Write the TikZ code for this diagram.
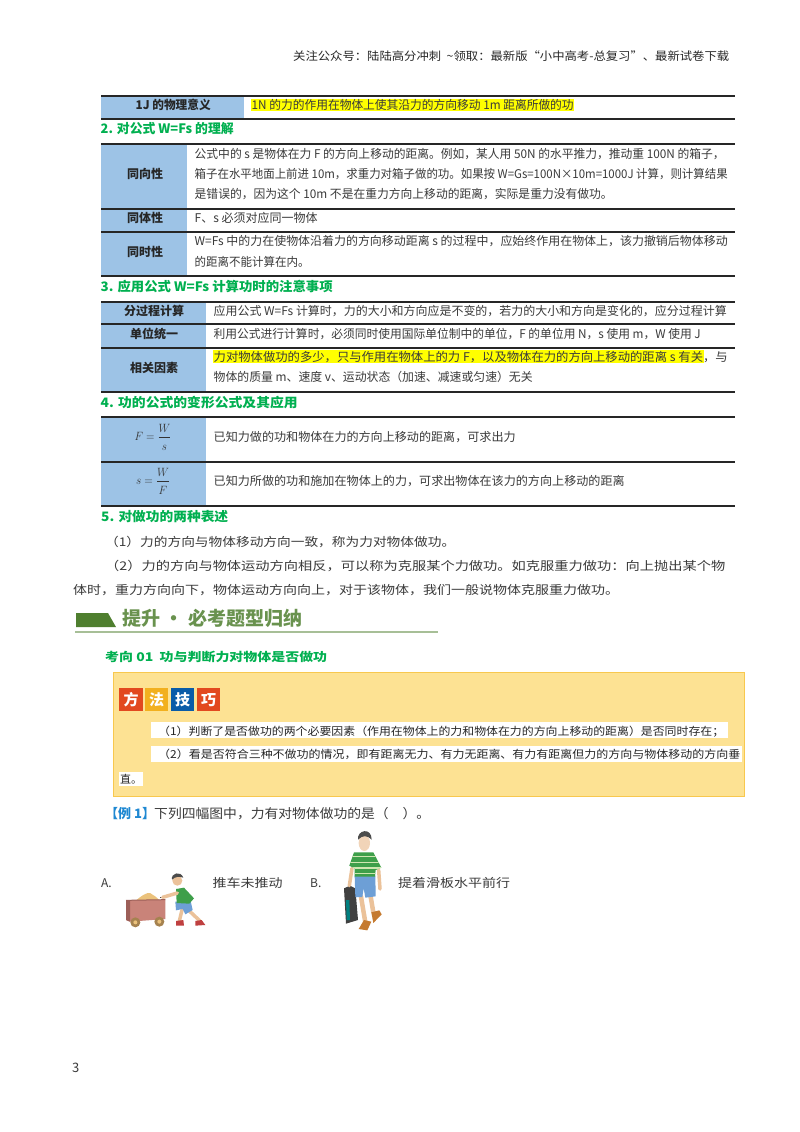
\documentclass[tikz,border=0pt]{standalone}
\usepackage{fontspec}
\usepackage{graphicx}
\usepackage{amsmath}
\setmainfont{Noto Sans CJK SC}
\definecolor{headgreen}{HTML}{00B050}
\definecolor{cellblue}{HTML}{9DC3E6}
\definecolor{markyellow}{HTML}{FFFF00}
\definecolor{boxyellow}{HTML}{FDE293}
\definecolor{boxedge}{HTML}{F8C84E}
\definecolor{bannergreen}{HTML}{4F7F2F}
\definecolor{inkgray}{HTML}{3A3A3A}
\definecolor{skin}{HTML}{EBC29A}
\definecolor{tilered}{HTML}{E2491F}
\definecolor{tileamber}{HTML}{F2B01E}
\definecolor{tileblue}{HTML}{0A5CA8}
\definecolor{exblue}{HTML}{1E88D2}
\definecolor{cartpink}{HTML}{C98379}
\definecolor{cartdark}{HTML}{9C5F58}
\definecolor{sand}{HTML}{EBC27C}
\definecolor{wheel}{HTML}{A5824F}
\definecolor{shirtgreen}{HTML}{3E9F4A}
\definecolor{shirtband}{HTML}{CFE6B0}
\definecolor{shortsblue}{HTML}{6D9FD6}
\definecolor{shoebrown}{HTML}{C57A2F}
\newcommand{\fitw}[2]{\resizebox{#1pt}{\height}{#2}}
\tikzset{
  bodytext/.style = {anchor=base west, yshift=-4.3pt, inner sep=0pt, text=inkgray, font=\fontsize{12}{12}\selectfont},
  headtext/.style = {bodytext, text=headgreen, font=\fontsize{13}{13}\selectfont\bfseries},
  celltext/.style = {bodytext, text=black!85, font=\fontsize{12}{12}\selectfont\bfseries},
  tiptext/.style = {bodytext, text=black!85, font=\fontsize{11}{12}\selectfont},
  mathtext/.style = {text=black!80, inner sep=0pt, font=\fontsize{12}{12}\selectfont},
  tileletter/.style = {text=white, inner sep=0pt, font=\fontsize{15}{15}\selectfont\bfseries},
  tabline/.style = {line width=1.3pt, black!85},
  limb/.style = {skin, line width=#1, line cap=round},
}
\begin{document}
\begin{tikzpicture}[x=1pt, y=-1pt]
\useasboundingbox (0, 0) rectangle (800, 1132);
\fill[white] (0, 0) rectangle (800, 1132);
\node[bodytext, text=black!85, font=\fontsize{11.5}{12}\selectfont] (top) at (293, 56) {\fitw{436}{关注公众号：陆陆高分冲刺\ \ \textasciitilde 领取：最新版“小中高考-总复习”、最新试卷下载}};
% blue cells of the tables
\fill[cellblue] (101, 96) rectangle (244, 119);
\fill[cellblue] (101, 144) rectangle (187, 276);
\fill[cellblue] (101, 302) rectangle (206, 392);
\fill[cellblue] (101, 417) rectangle (206, 506);
% yellow marks
\fill[markyellow] (251, 99) rectangle (574, 111);
\fill[markyellow] (213, 350) rectangle (704, 363);
\foreach \y in {96, 119, 144, 209, 232, 276, 302, 324, 348, 392, 417, 462, 506}{\draw[tabline] (101, \y) -- (735, \y);}
% first table
\node[celltext] (onej) at (135.5, 105) {\fitw{75}{1J 的物理意义}};
\node[bodytext] (onejt) at (251.5, 105) {\fitw{322}{1N 的力的作用在物体上使其沿力的方向移动 1m 距离所做的功}};
\node[headtext] (h2) at (100.5, 129) {\fitw{133}{2. 对公式 W=Fs 的理解}};
% second table
\foreach \t/\y in {同向性/174, 同体性/218, 同时性/252}{\node[celltext] (c\y) at (127, \y) {\t};}
\node[bodytext] (a1) at (194.5, 154) {\fitw{530}{公式中的 s 是物体在力 F 的方向上移动的距离。例如，某人用 50N 的水平推力，推动重 100N 的箱子，}};
\node[bodytext] (a2) at (194.5, 174) {\fitw{533}{箱子在水平地面上前进 10m，求重力对箱子做的功。如果按 W=Gs=100N×10m=1000J 计算，则计算结果}};
\node[bodytext] (a3) at (194.5, 194) {\fitw{418}{是错误的，因为这个 10m 不是在重力方向上移动的距离，实际是重力没有做功。}};
\node[bodytext] (b1) at (194.5, 218) {\fitw{123}{F、s 必须对应同一物体}};
\node[bodytext] (d1) at (194.5, 241) {\fitw{533}{W=Fs 中的力在使物体沿着力的方向移动距离 s 的过程中，应始终作用在物体上，该力撤销后物体移动}};
\node[bodytext] (d2) at (194.5, 262) {\fitw{115}{的距离不能计算在内。}};
\node[headtext] (h3) at (100.5, 287) {\fitw{232}{3. 应用公式 W=Fs 计算功时的注意事项}};
% third table
\node[celltext] (e0) at (124, 311) {分过程计算};
\node[celltext] (f0) at (130, 334) {单位统一};
\node[celltext] (g0) at (130, 368) {相关因素};
\node[bodytext] (e1) at (213.5, 311) {\fitw{513}{应用公式 W=Fs 计算时，力的大小和方向应是不变的，若力的大小和方向是变化的，应分过程计算}};
\node[bodytext] (f1) at (213.5, 334) {\fitw{487}{利用公式进行计算时，必须同时使用国际单位制中的单位，F 的单位用 N，s 使用 m，W 使用 J}};
\node[bodytext] (g1) at (213.5, 357) {\fitw{514}{力对物体做功的多少，只与作用在物体上的力 F，以及物体在力的方向上移动的距离 s 有关，与}};
\node[bodytext] (g2) at (213.5, 377) {\fitw{319}{物体的质量 m、速度 v、运动状态（加速、减速或匀速）无关}};
\node[headtext] (h4) at (100.5, 403) {\fitw{197}{4. 功的公式的变形公式及其应用}};
% fourth table
\node[mathtext] (m1) at (153, 437) {\fitw{37}{$F=\dfrac{W\rule[-2pt]{0pt}{1pt}}{\rule{0pt}{11pt}s}$}};
\node[mathtext] (m2) at (153, 481) {\fitw{34}{$s=\dfrac{W\rule[-2pt]{0pt}{1pt}}{\rule{0pt}{11pt}F}$}};
\node[bodytext] (m1t) at (213.5, 437) {\fitw{302}{已知力做的功和物体在力的方向上移动的距离，可求出力}};
\node[bodytext] (m2t) at (213.5, 481) {\fitw{411}{已知力所做的功和施加在物体上的力，可求出物体在该力的方向上移动的距离}};
\node[headtext] (h5) at (101, 517) {\fitw{127}{5. 对做功的两种表述}};
\node[bodytext] (p1) at (105, 542) {\fitw{350}{（1）力的方向与物体移动方向一致，称为力对物体做功。}};
\node[bodytext] (p2) at (105, 566) {\fitw{620}{（2）力的方向与物体运动方向相反，可以称为克服某个力做功。如克服重力做功：向上抛出某个物}};
\node[bodytext] (p3) at (73, 590) {\fitw{546}{体时，重力方向向下，物体运动方向向上，对于该物体，我们一般说物体克服重力做功。}};
% banner
\fill[bannergreen] (76, 613) -- (108, 613) -- (116, 627) -- (76, 627) -- cycle;
\node[bodytext, yshift=-2.4pt, text=bannergreen!85, font=\fontsize{19}{19}\selectfont\bfseries] (ban) at (122, 619) {\fitw{180}{提升 · 必考题型归纳}};
\draw[line width=1.2pt, bannergreen!50] (75, 632) -- (438, 632);
\node[headtext, font=\fontsize{12}{12}\selectfont\bfseries] (h6) at (105, 657) {\fitw{222}{考向 01\ \ 功与判断力对物体是否做功}};
% tips box
\filldraw[fill=boxyellow, draw=boxedge, line width=0.8pt] (113, 672) rectangle (744, 796);
\foreach \x/\w/\c/\t in {119/24/tilered/方, 145/23/tileamber/法, 171/23/tileblue/技, 197/23/tilered/巧}{
  \node[fill=\c, minimum width=\w pt, minimum height=23pt, anchor=north west, tileletter] (tile\x) at (\x, 688) {\t};}
\fill[white] (151, 722) rectangle (728, 738);
\fill[white] (151, 746) rectangle (742, 762);
\fill[white] (119, 772) rectangle (143, 786);
\node[tiptext] (t1) at (158, 731) {\fitw{566}{（1）判断了是否做功的两个必要因素（作用在物体上的力和物体在力的方向上移动的距离）是否同时存在；}};
\node[tiptext] (t2) at (158, 754) {\fitw{582}{（2）看是否符合三种不做功的情况，即有距离无力、有力无距离、有力有距离但力的方向与物体移动的方向垂}};
\node[tiptext] (t3) at (120, 779) {直。};
% example line
\node[bodytext, text=exblue, font=\fontsize{13}{13}\selectfont\bfseries] (ex) at (105, 814) {【例 1】};
\node[bodytext, font=\fontsize{13}{13}\selectfont] (ext) at (154, 814) {\fitw{276}{下列四幅图中，力有对物体做功的是（\quad ）。}};
\node[bodytext] (oa) at (101, 883) {A.};
\node[bodytext] (oat) at (212.5, 883) {\fitw{70}{推车未推动}};
\node[bodytext] (ob) at (310, 883) {B.};
\node[bodytext] (obt) at (398, 883) {\fitw{112}{提着滑板水平前行}};
\node[bodytext, font=\fontsize{13}{13}\selectfont] (pg) at (72, 1068) {3};
% cart and boy
\begin{scope}[shift={(120, 865)}, scale=1/3]
\fill[sand] (48, 106) .. controls (65, 92) and (80, 82) .. (90, 84) .. controls (100, 90) and (110, 96) .. (118, 106) -- cycle;
\fill[cartpink] (18, 106) -- (136, 104) -- (136, 162) -- (30, 170) -- (18, 165) -- cycle;
\fill[cartdark] (18, 106) -- (30, 108) -- (30, 170) -- (18, 165) -- cycle;
\draw[cartdark, line width=1pt] (18, 106) -- (136, 104);
\fill[wheel] (46, 172) circle (15);
\fill[wheel] (118, 170) circle (15);
\fill[sand] (46, 172) circle (6);
\fill[sand] (118, 170) circle (6);
\draw[black!70, line width=1pt] (120, 97) -- (140, 97);
% legs
\draw[limb=3.5pt] (186, 135) -- (178, 168);
\draw[limb=3.5pt] (205, 135) -- (240, 168);
\fill[red!50!gray] (168, 168) -- (190, 165) -- (192, 182) -- (168, 182) -- cycle;
\fill[red!50!gray] (226, 168) -- (245, 165) -- (256, 180) -- (226, 182) -- cycle;
\fill[shortsblue] (166, 110) -- (212, 108) -- (218, 135) -- (196, 148) -- (188, 132) -- (168, 136) -- cycle;
\fill[shirtgreen] (168, 72) -- (192, 68) -- (222, 100) -- (208, 116) -- (170, 114) -- cycle;
\draw[limb=3.5pt] (172, 84) -- (128, 97);
\fill[skin] (172, 47) circle (15);
\fill[black!70] (156, 44) .. controls (152, 24) and (182, 16) .. (190, 38) .. controls (178, 34) and (166, 34) .. (156, 44) -- cycle;
\end{scope}
% boy with skateboard
\begin{scope}[shift={(330, 825)}, scale=1/3]
\fill[black!75] (42, 190) -- (60, 182) -- (76, 190) -- (84, 285) -- (48, 296) -- cycle;
\fill[teal] (48, 225) -- (58, 225) -- (60, 285) -- (50, 285) -- cycle;
\draw[limb=4.5pt] (93, 215) -- (106, 292);
\draw[limb=4.5pt] (122, 215) -- (130, 262);
\fill[shoebrown] (86, 312) -- (102, 285) -- (124, 290) -- (112, 316) -- cycle;
\fill[shoebrown] (124, 262) -- (148, 256) -- (155, 268) -- (130, 294) -- cycle;
\draw[limb=3.5pt] (66, 130) -- (58, 182);
\draw[limb=3.5pt] (146, 135) -- (150, 192);
\fill[shortsblue] (74, 152) -- (136, 152) -- (137, 214) -- (106, 218) -- (101, 190) -- (97, 216) -- (76, 216) -- cycle;
\begin{scope}
\clip (72, 82) -- (130, 82) -- (154, 128) -- (137, 135) -- (135, 155) -- (74, 155) -- (74, 130) -- (58, 122) -- cycle;
\fill[shirtgreen] (50, 75) rectangle (160, 160);
\foreach \y in {95, 112, 129, 145}{\draw[shirtband, line width=1.5pt] (50, \y) -- (160, \y);}
\end{scope}
\fill[skin!70!white] (103, 54) ellipse (17 and 24);
\fill[black!70] (84, 44) .. controls (80, 15) and (125, 5) .. (125, 44) .. controls (112, 30) and (98, 30) .. (84, 44) -- cycle;
\end{scope}
\end{tikzpicture}
\end{document}
